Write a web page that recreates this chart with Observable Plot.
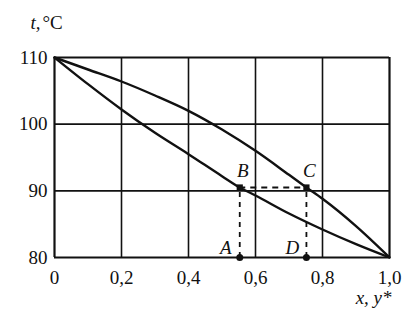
<!DOCTYPE html>
<html><head><meta charset="utf-8">
<script src="https://cdn.jsdelivr.net/npm/d3@7"></script>
<script src="https://cdn.jsdelivr.net/npm/@observablehq/plot@0.6"></script>
<style>body{margin:0;background:#fff} svg text{font-family:"Liberation Serif","DejaVu Serif",serif}</style>
</head><body><div id="chart"></div>
<script>
const xTicks = [0, 0.2, 0.4, 0.6, 0.8, 1.0];
const tTicks = [80, 90, 100, 110];
const liquidX = [0, 0.1, 0.2, 0.3, 0.4, 0.5, 0.553, 0.6, 0.7, 0.8, 0.9, 1.0];
const liquidT = [110, 106, 102.2, 98.7, 95.5, 92.2, 90.5, 89.3, 86.6, 84.2, 82, 80];
const vaporX = [0, 0.1, 0.2, 0.3, 0.4, 0.5, 0.6, 0.7, 0.752, 0.8, 0.9, 1.0];
const vaporT = [110, 108.2, 106.4, 104.3, 102, 99.2, 96, 92.4, 90.5, 88.8, 84.7, 80];
const pointNames = ["B", "C"];
const pointX = [0.553, 0.752];
const pointT = [90.5, 90.5];
const baseNames = ["A", "D"];

const liquid = liquidX.map((x, i) => ({x, t: liquidT[i]}));
const vapor = vaporX.map((x, i) => ({x, t: vaporT[i]}));
const pts = pointNames.map((n, i) => ({n, x: pointX[i], t: pointT[i]}));
const base = baseNames.map((n, i) => ({n, x: pointX[i], t: tTicks[0]}));

const fmt = d => d === 0 ? "0" : d.toFixed(1).replace(".", ",");
const ink = "#111";
const serif = "'Liberation Serif', 'DejaVu Serif', serif";

const chart = Plot.plot({
  width: 414, height: 320,
  marginLeft: 54, marginRight: 25, marginTop: 57, marginBottom: 63,
  style: {fontFamily: serif, fontSize: "19px", color: ink, background: "#fff"},
  x: {domain: [0, 1], ticks: xTicks, tickFormat: fmt, tickSize: 0, tickPadding: 13, label: null},
  y: {domain: [80, 110], ticks: tTicks, tickSize: 0, tickPadding: 7, label: null},
  marks: [
    Plot.ruleX(xTicks, {stroke: ink, strokeWidth: d => (d === 0 || d === 1) ? 2.2 : 1.6}),
    Plot.ruleY(tTicks, {stroke: ink, strokeWidth: d => (d === 80 || d === 110) ? 2.2 : 1.6}),
    Plot.ruleX(pts, {x: "x", y1: tTicks[0], y2: "t", stroke: ink, strokeWidth: 1.8, strokeDasharray: "5,5"}),
    Plot.ruleY([pts[0]], {y: "t", x1: pts[0].x, x2: pts[1].x, stroke: ink, strokeWidth: 1.8, strokeDasharray: "6,5"}),
    Plot.line(liquid, {x: "x", y: "t", curve: "monotone-x", stroke: ink, strokeWidth: 2.4}),
    Plot.line(vapor, {x: "x", y: "t", curve: "monotone-x", stroke: ink, strokeWidth: 2.4}),
    Plot.dot(pts, {x: "x", y: "t", r: 3.5, fill: ink, symbol: "square"}),
    Plot.dot(base, {x: "x", y: "t", r: 3.5, fill: ink}),
    Plot.text(pts, {x: "x", y: "t", text: "n", dx: 3, dy: -17, fontStyle: "italic", fill: ink, fontFamily: serif}),
    Plot.text(base, {x: "x", y: "t", text: "n", dx: -14, dy: -10, fontStyle: "italic", fill: ink, fontFamily: serif}),
    Plot.text(["t,"], {frameAnchor: "top-left", dx: -24, dy: -42, textAnchor: "start", fill: ink, fontStyle: "italic", fontFamily: serif}),
    Plot.text(["°C"], {frameAnchor: "top-left", dx: -12, dy: -42, textAnchor: "start", fill: ink, fontFamily: serif}),
    Plot.text(["x, y*"], {frameAnchor: "bottom-right", dx: 2, dy: 46, textAnchor: "end", fill: ink, fontStyle: "italic", fontFamily: serif})
  ]
});
document.getElementById("chart").append(chart);
</script>
</body></html>
